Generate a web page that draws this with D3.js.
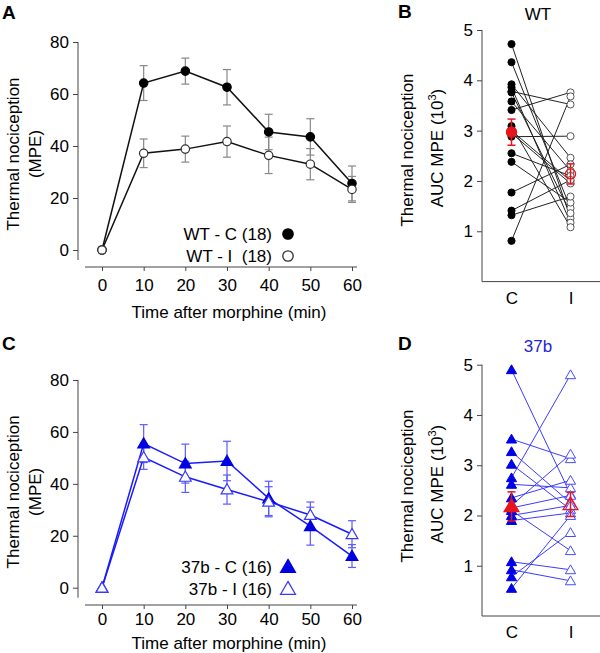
<!DOCTYPE html>
<html>
<head>
<meta charset="utf-8">
<script src="https://cdn.jsdelivr.net/npm/d3@7"></script>
<style>
  body { margin: 0; background: #fff; }
  svg { display: block; font-family: "Liberation Sans", Arial, sans-serif; }
</style>
</head>
<body>
<svg id="chart" width="600" height="653"></svg>
<script>
// time course data (MPE)
const times = [0, 10, 20, 30, 40, 50, 60];
const wtC = [0, 64.2, 68.8, 62.6, 45.4, 43.5, 25.6];
const wtCErr = [0, 6.7, 5, 6.8, 6.8, 7, 6.7];
const wtI = [0, 37.2, 38.8, 41.7, 36.4, 33, 23.3];
const wtIErr = [0, 5.5, 5, 6, 7, 6, 5];
const b37C = [0, 55.5, 47.8, 48.8, 34.4, 23.7, 12.2];
const b37CErr = [0, 7.3, 7.5, 7.6, 6.6, 7.3, 4.4];
const b37I = [0, 50.2, 42.7, 37.8, 33.1, 28, 20.6];
const b37IErr = [0, 4.6, 6, 5.6, 5.8, 5, 5.2];
const xTicks = [0, 10, 20, 30, 40, 50, 60];
const yTicksMPE = [0, 20, 40, 60, 80];

// paired AUC data (10^3), index i of C pairs with index i of I
const groups = ['C', 'I'];
const aucWtC = [4.72, 4.36, 3.92, 3.86, 3.78, 3.76, 3.58, 3.41, 3.09, 3.0, 2.95, 2.88, 2.55, 2.38, 1.77, 1.41, 1.32, 0.81];
const aucWtI = [1.26, 1.46, 2.46, 1.17, 3.52, 1.36, 2.2, 3.76, 1.08, 2.0, 1.95, 2.89, 2.1, 1.57, 2.33, 2.02, 1.69, 3.68];
const aucWtMean = [2.97, 2.14];
const aucWtSem = [0.26, 0.2];
const auc37C = [4.9, 3.52, 3.27, 3.02, 2.75, 2.62, 2.35, 2.2, 2.15, 2.1, 2.0, 1.9, 1.08, 0.92, 0.78, 0.55];
const auc37I = [2.42, 3.13, 2.25, 2.12, 4.8, 2.55, 2.7, 3.22, 2.4, 1.3, 2.2, 2.05, 0.92, 0.7, 1.66, 2.0];
const auc37Mean = [2.18, 2.22];
const auc37Sem = [0.29, 0.24];
const yTicksAUC = [1, 2, 3, 4, 5];

const svg = d3.select('#chart');
const FS = 17;
const axisColor = '#444';

const symbolPath = (type, size) => d3.symbol().type(type).size(size)();

// Function to draw a time course panel (A or C)
const drawTimeCourse = (cfg) => {
  const x = d3.scaleLinear().domain([0, 60]).range([102, 352]);
  const y = d3.scaleLinear().domain([0, 80]).range([cfg.y0, cfg.y80]);
  const g = svg.append('g');

  // y axis
  g.append('g')
    .attr('transform', 'translate(78,0)')
    .call(d3.axisLeft(y).tickValues(yTicksMPE).tickSize(5).tickPadding(4))
    .call(a => a.select('.domain').attr('d', `M0,${cfg.y80}V${cfg.y0 + 10}`))
    .call(a => a.selectAll('line, path').attr('stroke', axisColor))
    .call(a => a.selectAll('text').attr('font-size', FS).attr('font-family', null).attr('fill', '#000'));

  // x axis
  g.append('g')
    .attr('transform', `translate(0,${cfg.xAxisY})`)
    .call(d3.axisBottom(x).tickValues(xTicks).tickSize(4).tickPadding(cfg.tickPad))
    .call(a => a.select('.domain').attr('d', 'M85,0H357'))
    .call(a => a.selectAll('line, path').attr('stroke', axisColor))
    .call(a => a.selectAll('text').attr('font-size', FS).attr('font-family', null).attr('fill', '#000'));

  g.append('text')
    .attr('x', 229).attr('y', cfg.xTitleY)
    .attr('text-anchor', 'middle').attr('font-size', FS)
    .text('Time after morphine (min)');

  const yc = (cfg.y0 + cfg.y80) / 2 + 8;
  g.append('text')
    .attr('transform', `translate(19,${yc}) rotate(-90)`)
    .attr('text-anchor', 'middle').attr('font-size', FS)
    .text('Thermal nociception');
  g.append('text')
    .attr('transform', `translate(41,${yc}) rotate(-90)`)
    .attr('text-anchor', 'middle').attr('font-size', FS)
    .text('(MPE)');

  // panel letter
  g.append('text')
    .attr('x', 2).attr('y', cfg.letterY)
    .attr('font-size', 19).attr('font-weight', 'bold')
    .text(cfg.letter);

  const line = d3.line().x((d, i) => x(times[i])).y(d => y(d));

  cfg.series.forEach(s => {
    // error bars
    const eb = g.append('g').attr('stroke', s.errColor).attr('stroke-width', 1.2);
    s.values.forEach((v, i) => {
      if (s.err[i] === 0) return;
      const cx = x(times[i]);
      eb.append('line').attr('x1', cx).attr('x2', cx).attr('y1', y(v - s.err[i])).attr('y2', y(v + s.err[i]));
      eb.append('line').attr('x1', cx - 4).attr('x2', cx + 4).attr('y1', y(v - s.err[i])).attr('y2', y(v - s.err[i]));
      eb.append('line').attr('x1', cx - 4).attr('x2', cx + 4).attr('y1', y(v + s.err[i])).attr('y2', y(v + s.err[i]));
    });
  });

  cfg.series.forEach(s => {
    g.append('path')
      .datum(s.values)
      .attr('d', line)
      .attr('fill', 'none')
      .attr('stroke', s.lineColor)
      .attr('stroke-width', 1.5);
  });

  cfg.series.forEach(s => {
    g.selectAll(null)
      .data(s.values)
      .enter()
      .append('path')
      .attr('transform', (d, i) => `translate(${x(times[i])},${y(d) + s.dy})`)
      .attr('d', symbolPath(s.symbol, s.size))
      .attr('fill', s.fill)
      .attr('stroke', s.stroke)
      .attr('stroke-width', 1.2);
  });

  // legend
  cfg.series.forEach((s, k) => {
    const ly = cfg.legendY + k * 22;
    g.append('text')
      .attr('x', 272).attr('y', ly + 6)
      .attr('text-anchor', 'end').attr('font-size', FS)
      .attr('xml:space', 'preserve')
      .text(s.label);
    g.append('path')
      .attr('transform', `translate(288,${ly + s.legendDy})`)
      .attr('d', symbolPath(s.symbol, s.legendSize))
      .attr('fill', s.fill)
      .attr('stroke', s.stroke)
      .attr('stroke-width', 1.3);
  });
};

// Function to draw a paired AUC panel (B or D)
const drawPaired = (cfg) => {
  const x = d3.scalePoint().domain(groups).range([482, 600]).padding(0.5);
  const y = d3.scaleLinear().domain([0, 5]).range([cfg.y0, cfg.y5]);
  const g = svg.append('g');

  g.append('g')
    .attr('transform', 'translate(482,0)')
    .call(d3.axisLeft(y).tickValues(yTicksAUC).tickFormat(d3.format('d')).tickSize(5).tickPadding(4))
    .call(a => a.select('.domain').attr('d', `M0,${cfg.y5}V${cfg.y0}`))
    .call(a => a.selectAll('line, path').attr('stroke', axisColor))
    .call(a => a.selectAll('text').attr('font-size', FS).attr('font-family', null).attr('fill', '#000'));

  g.append('g')
    .attr('transform', `translate(0,${cfg.y0})`)
    .call(d3.axisBottom(x).tickSize(0).tickPadding(10))
    .call(a => a.select('.domain').attr('d', 'M482,0H600'))
    .call(a => a.selectAll('path').attr('stroke', axisColor))
    .call(a => a.selectAll('text').attr('font-size', FS).attr('font-family', null).attr('fill', '#000'));

  const yc = cfg.titleCenter;
  g.append('text')
    .attr('transform', `translate(413,${yc}) rotate(-90)`)
    .attr('text-anchor', 'middle').attr('font-size', FS)
    .text('Thermal nociception');
  const t2 = g.append('text')
    .attr('transform', `translate(443,${yc - 2}) rotate(-90)`)
    .attr('text-anchor', 'middle').attr('font-size', FS);
  t2.append('tspan').text('AUC MPE (10');
  t2.append('tspan').attr('dy', -7).attr('font-size', 11).text('3');
  t2.append('tspan').attr('dy', 7).text(')');

  g.append('text')
    .attr('x', 398).attr('y', cfg.letterY)
    .attr('font-size', 19).attr('font-weight', 'bold')
    .text(cfg.letter);
  g.append('text')
    .attr('x', 538).attr('y', cfg.letterY + 2)
    .attr('text-anchor', 'middle').attr('font-size', FS)
    .attr('fill', cfg.titleColor)
    .text(cfg.title);

  // pair lines
  g.selectAll(null)
    .data(cfg.c)
    .enter()
    .append('line')
    .attr('x1', x('C')).attr('y1', d => y(d))
    .attr('x2', x('I')).attr('y2', (d, i) => y(cfg.i[i]))
    .attr('stroke', cfg.lineColor)
    .attr('stroke-width', 1);

  [cfg.c, cfg.i].forEach((vals, k) => {
    g.selectAll(null)
      .data(vals)
      .enter()
      .append('path')
      .attr('transform', d => `translate(${x(groups[k])},${y(d) + cfg.dy})`)
      .attr('d', symbolPath(cfg.symbol, cfg.size))
      .attr('fill', k === 0 ? cfg.fill : '#fff')
      .attr('stroke', k === 0 ? cfg.fill : cfg.openStroke)
      .attr('stroke-width', 1);
  });

  // mean +- sem in red
  cfg.mean.forEach((m, k) => {
    const cx = x(groups[k]);
    const eb = g.append('g').attr('stroke', '#e8141c').attr('stroke-width', 1.5);
    eb.append('line').attr('x1', cx).attr('x2', cx).attr('y1', y(m - cfg.sem[k])).attr('y2', y(m + cfg.sem[k]));
    eb.append('line').attr('x1', cx - 4).attr('x2', cx + 4).attr('y1', y(m - cfg.sem[k])).attr('y2', y(m - cfg.sem[k]));
    eb.append('line').attr('x1', cx - 4).attr('x2', cx + 4).attr('y1', y(m + cfg.sem[k])).attr('y2', y(m + cfg.sem[k]));
    g.append('path')
      .attr('transform', `translate(${cx},${y(m) + cfg.dy})`)
      .attr('d', symbolPath(cfg.symbol, cfg.meanSize))
      .attr('fill', k === 0 ? '#e8141c' : 'none')
      .attr('stroke', '#e8141c')
      .attr('stroke-width', 1.3);
  });
};

drawTimeCourse({
  letter: 'A', letterY: 19,
  y0: 250, y80: 42, xAxisY: 267, tickPad: 8, xTitleY: 318,
  legendY: 234,
  series: [
    { label: 'WT - C (18)', values: wtC, err: wtCErr, symbol: d3.symbolCircle, size: 55, legendSize: 85,
      fill: '#000', stroke: '#000', lineColor: '#111', errColor: '#888', dy: 0, legendDy: 0 },
    { label: 'WT - I  (18)', values: wtI, err: wtIErr, symbol: d3.symbolCircle, size: 55, legendSize: 85,
      fill: '#fff', stroke: '#333', lineColor: '#111', errColor: '#888', dy: 0, legendDy: 0 }
  ]
});

drawTimeCourse({
  letter: 'C', letterY: 350,
  y0: 587.7, y80: 380, xAxisY: 605, tickPad: 4, xTitleY: 649,
  legendY: 567,
  series: [
    { label: '37b - C (16)', values: b37C, err: b37CErr, symbol: d3.symbolTriangle, size: 60, legendSize: 95,
      fill: '#0000e0', stroke: '#0000e0', lineColor: '#1a1aff', errColor: '#5a5aff', dy: 1, legendDy: 1 },
    { label: '37b - I (16)', values: b37I, err: b37IErr, symbol: d3.symbolTriangle, size: 60, legendSize: 95,
      fill: '#fff', stroke: '#3a3aff', lineColor: '#1a1aff', errColor: '#5a5aff', dy: 1, legendDy: 1 }
  ]
});

drawPaired({
  letter: 'B', letterY: 18, title: 'WT', titleColor: '#000',
  y0: 281.6, y5: 30, titleCenter: 150,
  c: aucWtC, i: aucWtI, mean: aucWtMean, sem: aucWtSem,
  symbol: d3.symbolCircle, size: 40, meanSize: 80, dy: 0,
  fill: '#000', openStroke: '#555', lineColor: '#222'
});

drawPaired({
  letter: 'D', letterY: 350, title: '37b', titleColor: '#2424d8',
  y0: 616, y5: 364.7, titleCenter: 486,
  c: auc37C, i: auc37I, mean: auc37Mean, sem: auc37Sem,
  symbol: d3.symbolTriangle, size: 45, meanSize: 95, dy: 1,
  fill: '#0000e6', openStroke: '#4a4aff', lineColor: '#3c3cff'
});
</script>
</body>
</html>
